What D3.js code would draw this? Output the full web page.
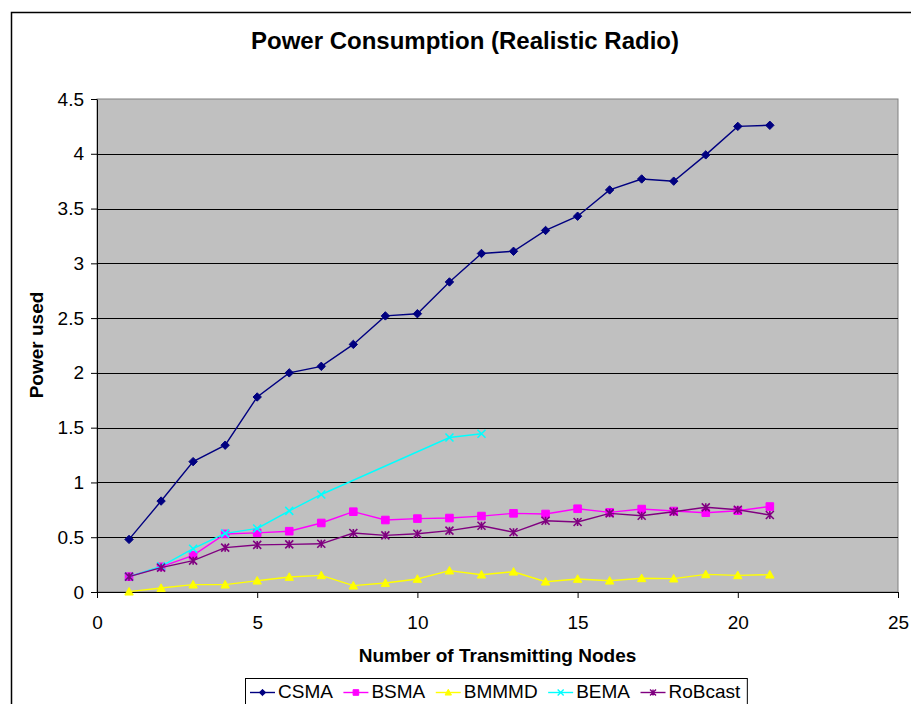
<!DOCTYPE html>
<html>
<head>
<meta charset="UTF-8">
<title>Power Consumption (Realistic Radio)</title>
<script src="https://d3js.org/d3.v7.min.js"></script>
<style>
  body { margin: 0; background: #fff; }
  svg text { font-family: "Liberation Sans", Arial, sans-serif; fill: #000; }
</style>
</head>
<body>
<div id="chart"></div>
<script>
// data
const nodes   = [1, 2, 3, 4, 5, 6, 7, 8, 9, 10, 11, 12, 13, 14, 15, 16, 17, 18, 19, 20, 21];
const csma    = [0.48, 0.83, 1.19, 1.34, 1.78, 2.00, 2.06, 2.26, 2.52, 2.54, 2.83, 3.09, 3.11, 3.30, 3.43, 3.67, 3.77, 3.75, 3.99, 4.25, 4.26];
const bsma    = [0.14, 0.23, 0.335, 0.53, 0.54, 0.555, 0.63, 0.733, 0.657, 0.67, 0.675, 0.693, 0.718, 0.712, 0.76, 0.727, 0.757, 0.739, 0.724, 0.742, 0.78];
const bmmmd   = [0.003, 0.036, 0.067, 0.067, 0.103, 0.137, 0.152, 0.058, 0.082, 0.119, 0.195, 0.158, 0.185, 0.094, 0.119, 0.103, 0.125, 0.122, 0.161, 0.152, 0.158];
const bema    = [0.14, 0.234, 0.395, 0.535, 0.58, 0.74, 0.89, null, null, null, 1.41, 1.445, null, null, null, null, null, null, null, null, null];
const robcast = [0.14, 0.222, 0.286, 0.405, 0.43, 0.435, 0.44, 0.538, 0.517, 0.532, 0.56, 0.605, 0.545, 0.65, 0.639, 0.718, 0.696, 0.733, 0.773, 0.751, 0.703];

const seriesNames  = ["CSMA", "BSMA", "BMMMD", "BEMA", "RoBcast"];
const seriesValues = [csma, bsma, bmmmd, bema, robcast];
const seriesColors = ["#000080", "#FF00FF", "#FFFF00", "#00FFFF", "#800080"];
const seriesMarks  = ["diamond", "square", "triangle", "cross", "star"];

const xTicks = [0, 5, 10, 15, 20, 25];
const yTicks = [0, 0.5, 1, 1.5, 2, 2.5, 3, 3.5, 4, 4.5];

const W = 911, H = 704;
const margin = {top: 99, right: 13, bottom: 112, left: 97};
const pw = W - margin.left - margin.right;
const ph = H - margin.top - margin.bottom;

const svg = d3.select("#chart").append("svg")
    .attr("width", W)
    .attr("height", H);

// outer chart frame (runs off the picture on right and bottom)
svg.append("rect")
    .attr("x", 11.5).attr("y", 12.5)
    .attr("width", W + 20).attr("height", H + 20)
    .attr("fill", "#fff")
    .attr("stroke", "#000").attr("stroke-width", 1.5);

svg.append("text")
    .attr("x", 465).attr("y", 49)
    .attr("text-anchor", "middle")
    .style("font-size", "24px").style("font-weight", "bold")
    .text("Power Consumption (Realistic Radio)");

const g = svg.append("g")
    .attr("transform", "translate(" + margin.left + "," + margin.top + ")");

const x = d3.scaleLinear().domain([0, 25]).range([0, pw]);
const y = d3.scaleLinear().domain([0, 4.5]).range([ph, 0]);

// plot area
g.append("rect")
    .attr("width", pw).attr("height", ph)
    .attr("fill", "#C0C0C0")
    .attr("stroke", "#808080").attr("stroke-width", 1);

g.selectAll(".grid")
    .data(yTicks.filter(d => d > 0 && d < 4.5))
    .enter().append("line")
    .attr("class", "grid")
    .attr("x1", 0).attr("x2", pw)
    .attr("y1", d => Math.round(y(d)) + 0.5)
    .attr("y2", d => Math.round(y(d)) + 0.5)
    .attr("stroke", "#000").attr("stroke-width", 1);

const yAxis = g.append("g")
    .call(d3.axisLeft(y).tickValues(yTicks).tickSize(6).tickSizeOuter(0).tickPadding(7).tickFormat(d => d));
const xAxis = g.append("g")
    .attr("transform", "translate(0," + ph + ")")
    .call(d3.axisBottom(x).tickValues(xTicks).tickSize(6).tickSizeOuter(0).tickPadding(18).tickFormat(d => d));

[xAxis, yAxis].forEach(a => {
    a.selectAll("text").style("font-size", "19px");
    a.selectAll("line,path").attr("stroke", "#000");
});

svg.append("text")
    .attr("x", margin.left + pw / 2).attr("y", 662)
    .attr("text-anchor", "middle")
    .style("font-size", "19px").style("font-weight", "bold")
    .text("Number of Transmitting Nodes");

svg.append("text")
    .attr("transform", "translate(43,345) rotate(-90)")
    .attr("text-anchor", "middle")
    .style("font-size", "19px").style("font-weight", "bold")
    .text("Power used");

function markerPath(type, r) {
    const p = d3.path();
    if (type === "diamond") {
        p.moveTo(0, -r); p.lineTo(r, 0); p.lineTo(0, r); p.lineTo(-r, 0); p.closePath();
    } else if (type === "square") {
        p.rect(-r, -r, 2 * r, 2 * r);
    } else if (type === "triangle") {
        p.moveTo(0, -r); p.lineTo(r, r * 0.8); p.lineTo(-r, r * 0.8); p.closePath();
    } else if (type === "cross") {
        p.moveTo(-r, -r); p.lineTo(r, r); p.moveTo(r, -r); p.lineTo(-r, r);
    } else {
        p.moveTo(-r, -r); p.lineTo(r, r); p.moveTo(r, -r); p.lineTo(-r, r);
        p.moveTo(0, -r); p.lineTo(0, r);
    }
    return p.toString();
}
const markSize = {diamond: 4.2, square: 3.8, triangle: 4.2, cross: 4, star: 4};
const filled = t => t === "diamond" || t === "square" || t === "triangle";

const line = d3.line()
    .x(d => x(d[0]))
    .y(d => y(d[1]));

seriesNames.forEach((name, i) => {
    const pts = nodes.map((n, j) => [n, seriesValues[i][j]]).filter(d => d[1] !== null);
    const col = seriesColors[i], mk = seriesMarks[i];
    const s = g.append("g").attr("class", "series");
    s.append("path")
        .datum(pts)
        .attr("d", line)
        .attr("fill", "none")
        .attr("stroke", col).attr("stroke-width", 1.4);
    s.selectAll(".mark")
        .data(pts)
        .enter().append("path")
        .attr("class", "mark")
        .attr("transform", d => "translate(" + x(d[0]) + "," + y(d[1]) + ")")
        .attr("d", markerPath(mk, markSize[mk]))
        .attr("fill", filled(mk) ? col : "none")
        .attr("stroke", col).attr("stroke-width", filled(mk) ? 1 : 1.6);
});

// legend
const leg = svg.append("g");
const legBox = leg.append("rect")
    .attr("x", 245.5).attr("y", 678.5)
    .attr("height", 40)
    .attr("fill", "#fff")
    .attr("stroke", "#000").attr("stroke-width", 1);
let lx = 250;
seriesNames.forEach((name, i) => {
    const col = seriesColors[i], mk = seriesMarks[i];
    leg.append("line")
        .attr("x1", lx).attr("x2", lx + 25)
        .attr("y1", 692.5).attr("y2", 692.5)
        .attr("stroke", col).attr("stroke-width", 1.4);
    leg.append("path")
        .attr("transform", "translate(" + (lx + 12.5) + ",692.5)")
        .attr("d", markerPath(mk, markSize[mk] - 1))
        .attr("fill", filled(mk) ? col : "none")
        .attr("stroke", col).attr("stroke-width", filled(mk) ? 1 : 1.4);
    const t = leg.append("text")
        .attr("x", lx + 28).attr("y", 698)
        .style("font-size", "19px")
        .text(name);
    lx += 28 + t.node().getComputedTextLength() + 10.5;
});
legBox.attr("width", lx - 245.5 - 3.5);
</script>
</body>
</html>
